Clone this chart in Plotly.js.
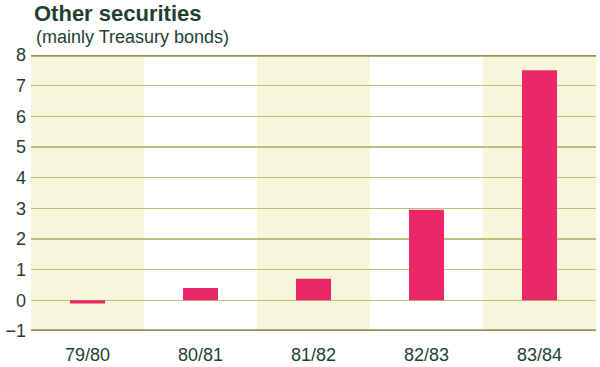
<!DOCTYPE html>
<html>
<head>
<meta charset="utf-8">
<script src="https://cdn.plot.ly/plotly-3.0.1.min.js"></script>
<style>
html,body{margin:0;padding:0;background:#fff;}
#chart{width:600px;height:367px;}
</style>
</head>
<body>
<div id="chart"></div>
<script>
var categories = ["79/80", "80/81", "81/82", "82/83", "83/84"];
var values = [-0.1, 0.4, 0.7, 2.95, 7.5];
var yTicks = [-1, 0, 1, 2, 3, 4, 5, 6, 7, 8];
var shadedCategories = ["79/80", "81/82", "83/84"];

var textColor = "#1f3f33";
var bandColor = "#f7f5da";
var gridColor = "#bcc07a";
var frameColor = "#8c985a";
var barColor = "#ea2868";

var shapes = [];
categories.forEach(function(c, i){
  if (shadedCategories.indexOf(c) >= 0) {
    shapes.push({type:"rect", xref:"x", yref:"y", x0:i-0.5, x1:i+0.5, y0:-1, y1:8,
      fillcolor:bandColor, line:{width:0}, layer:"below"});
  }
});
shapes.push({type:"line", xref:"paper", yref:"y", x0:0, x1:1, y0:8, y1:8, line:{color:frameColor, width:3.5}});
shapes.push({type:"line", xref:"paper", yref:"y", x0:0, x1:1, y0:-1, y1:-1, line:{color:frameColor, width:3.5}});

var trace = {
  type: "bar",
  x: categories.map(function(c, i){ return i; }),
  y: values,
  marker: {color: barColor},
  width: 0.31,
  hoverinfo: "skip"
};

var layout = {
  width: 600, height: 367,
  margin: {l: 31, r: 4, t: 55, b: 36},
  paper_bgcolor: "#ffffff",
  plot_bgcolor: "rgba(0,0,0,0)",
  showlegend: false,
  font: {family: "Liberation Sans, Arial, sans-serif", color: textColor},
  xaxis: {
    range: [-0.5, 4.5],
    tickvals: [0, 1, 2, 3, 4],
    ticktext: categories,
    showgrid: false, zeroline: false, showline: false,
    ticks: "", tickfont: {size: 18, color: textColor},
    ticklabelstandoff: 11,
    fixedrange: true
  },
  yaxis: {
    range: [-1, 8],
    tickvals: yTicks,
    ticktext: yTicks.map(function(v){ return v < 0 ? "\u2212" + Math.abs(v) : String(v); }),
    showgrid: true, gridcolor: gridColor, gridwidth: 1.3,
    zeroline: true, zerolinecolor: gridColor, zerolinewidth: 1.3,
    showline: false, ticks: "",
    tickfont: {size: 18, color: textColor},
    ticklabelstandoff: 4,
    layer: "below traces",
    fixedrange: true
  },
  shapes: shapes,
  annotations: [
    {text: "<b>Other securities</b>", xref: "paper", yref: "paper", x: 0, y: 1,
     xshift: 1, yshift: 42, xanchor: "left", yanchor: "middle", showarrow: false,
     font: {size: 22, color: textColor}},
    {text: "(mainly Treasury bonds)", xref: "paper", yref: "paper", x: 0, y: 1,
     xshift: 3, yshift: 18, xanchor: "left", yanchor: "middle", showarrow: false,
     font: {size: 18, color: textColor}}
  ]
};

Plotly.newPlot("chart", [trace], layout, {displayModeBar: false, staticPlot: true});
</script>
</body>
</html>
